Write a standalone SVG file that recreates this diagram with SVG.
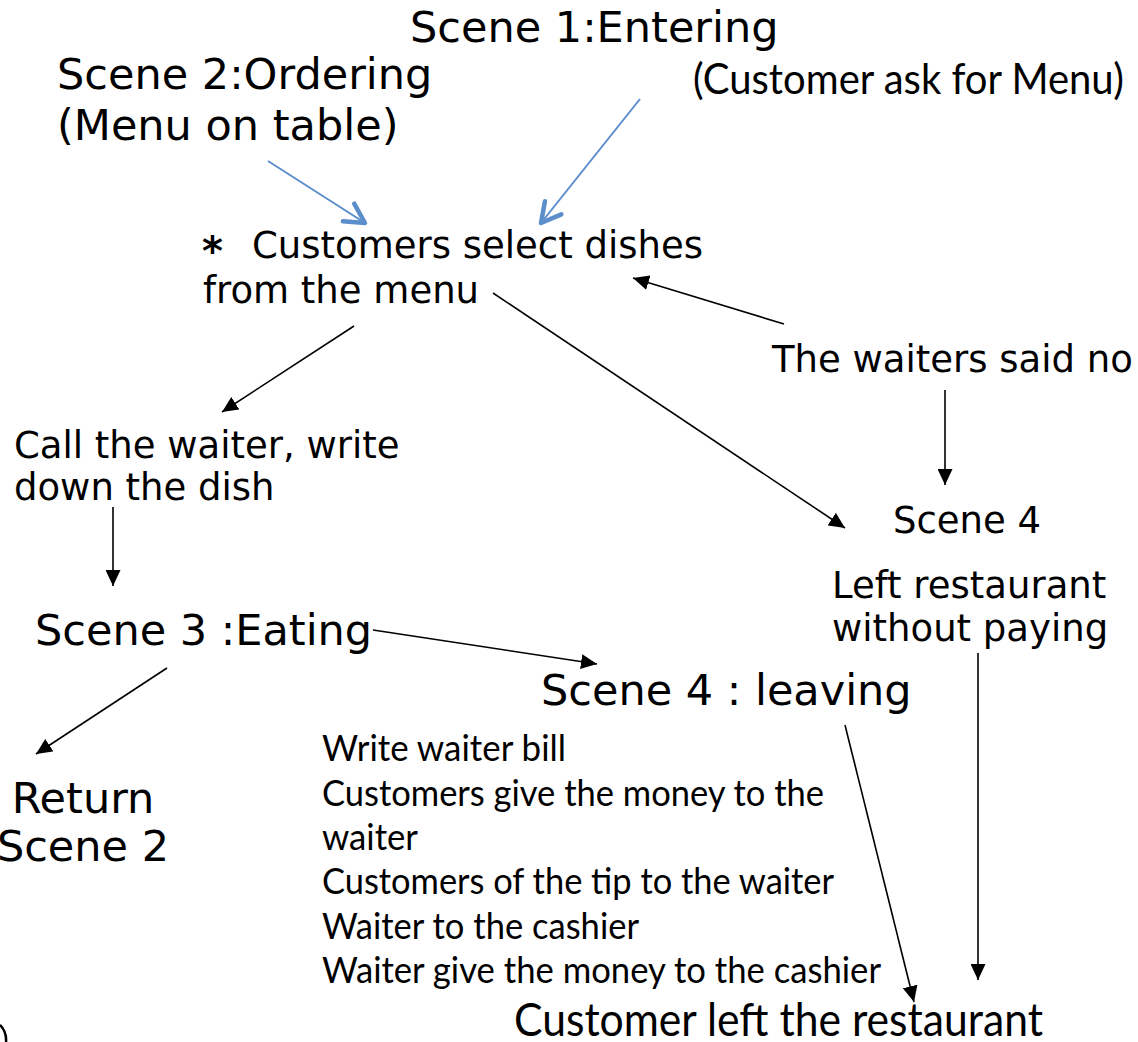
<svg xmlns="http://www.w3.org/2000/svg" width="1138" height="1042" viewBox="0 0 1138 1042">
  <style>
    .dv { font-family: "DejaVu Sans", Verdana, sans-serif; fill: #000; }
    .cb { font-family: Lato, "Liberation Sans", sans-serif; fill: #000; }
    .t43 { font-size: 43px; }
    .t37 { font-size: 37px; }
    .line { stroke: #000; stroke-width: 1.6; fill: none; marker-end: url(#ah); }
    .blue { stroke: #5b8ecb; stroke-width: 2; fill: none; marker-end: url(#bh); }
  </style>
  <defs>
    <!-- filled black arrowhead -->
    <marker id="ah" markerUnits="userSpaceOnUse" markerWidth="17" markerHeight="15" refX="16" refY="7.5" orient="auto">
      <path d="M0,0 L16,7.5 L0,15 z" fill="#000"/>
    </marker>
    <!-- open chevron arrowhead for the blue links -->
    <marker id="bh" markerUnits="userSpaceOnUse" viewBox="-24 -14 28 28" markerWidth="28" markerHeight="28" refX="0" refY="0" orient="auto">
      <path d="M-19.5,-10.5 L0,0 L-19.5,10.5" fill="none" stroke="#5b8ecb" stroke-width="4.5" stroke-linecap="round" stroke-linejoin="round"/>
    </marker>
  </defs>

  <rect width="1138" height="1042" fill="#fff"/>

  <g id="connectors">
    <line class="blue" x1="268" y1="161" x2="365" y2="223"/>
    <line class="blue" x1="640" y1="99" x2="541" y2="223"/>
    <line class="line" x1="354" y1="326" x2="222" y2="412"/>
    <line class="line" x1="113" y1="507" x2="113" y2="586"/>
    <line class="line" x1="493" y1="293" x2="845" y2="528"/>
    <line class="line" x1="784" y1="324" x2="633" y2="278"/>
    <line class="line" x1="945" y1="390" x2="945" y2="485"/>
    <line class="line" x1="373" y1="630" x2="597" y2="664"/>
    <line class="line" x1="167" y1="668" x2="36" y2="754"/>
    <line class="line" x1="845" y1="725" x2="914" y2="1002"/>
    <line class="line" x1="978" y1="653" x2="978" y2="980"/>
  </g>

  <g id="scene1">
    <text class="dv t43" x="410" y="42">Scene 1:Entering</text>
    <text class="cb" x="693" y="94" font-size="42.5" textLength="431" lengthAdjust="spacingAndGlyphs">(Customer ask for Menu)</text>
  </g>

  <g id="scene2">
    <text class="dv t43" x="57" y="89">Scene 2:Ordering</text>
    <text class="dv t43" x="57" y="140">(Menu on table)</text>
  </g>

  <g id="select-dishes">
    <text class="dv t37" x="202" y="258"><tspan font-size="40" font-weight="bold" dy="7">*</tspan><tspan x="252" dy="-7">Customers select dishes</tspan></text>
    <text class="dv t37" x="203" y="303">from the menu</text>
  </g>

  <g id="call-waiter">
    <text class="dv t37" x="14" y="458">Call the waiter, write</text>
    <text class="dv t37" x="14" y="500">down the dish</text>
  </g>

  <g id="waiters-said-no">
    <text class="dv t37" x="772" y="372">The waiters said no</text>
  </g>

  <g id="scene4-unpaid">
    <text class="dv t37" x="893" y="533">Scene 4</text>
    <text class="dv t37" x="832" y="598">Left restaurant</text>
    <text class="dv t37" x="832" y="641">without paying</text>
  </g>

  <g id="scene3">
    <text class="dv t43" x="35" y="645">Scene 3 :Eating</text>
  </g>

  <g id="return-scene2">
    <text class="dv t43" x="83" y="813" text-anchor="middle">Return</text>
    <text class="dv t43" x="83" y="861" text-anchor="middle">Scene 2</text>
  </g>

  <g id="scene4-leaving">
    <text class="dv t43" x="541" y="705">Scene 4 : leaving</text>
    <text class="cb" x="322" y="761" font-size="37" textLength="244" lengthAdjust="spacingAndGlyphs">Write waiter bill</text>
    <text class="cb" x="322" y="806" font-size="37" textLength="502" lengthAdjust="spacingAndGlyphs">Customers give the money to the</text>
    <text class="cb" x="322" y="850" font-size="37" textLength="96" lengthAdjust="spacingAndGlyphs">waiter</text>
    <text class="cb" x="322" y="894" font-size="37" textLength="512" lengthAdjust="spacingAndGlyphs">Customers of the tip to the waiter</text>
    <text class="cb" x="322" y="939" font-size="37" textLength="317" lengthAdjust="spacingAndGlyphs">Waiter to the cashier</text>
    <text class="cb" x="322" y="983" font-size="37" textLength="559" lengthAdjust="spacingAndGlyphs">Waiter give the money to the cashier</text>
  </g>

  <g id="customer-left">
    <text class="cb" x="514" y="1036" font-size="45.5" textLength="529" lengthAdjust="spacingAndGlyphs">Customer left the restaurant</text>
  </g>

  <!-- edge of a shape cut off at the lower-left corner -->
  <path d="M0,1025 Q7,1032 6,1043" fill="none" stroke="#000" stroke-width="2.5"/>
</svg>
